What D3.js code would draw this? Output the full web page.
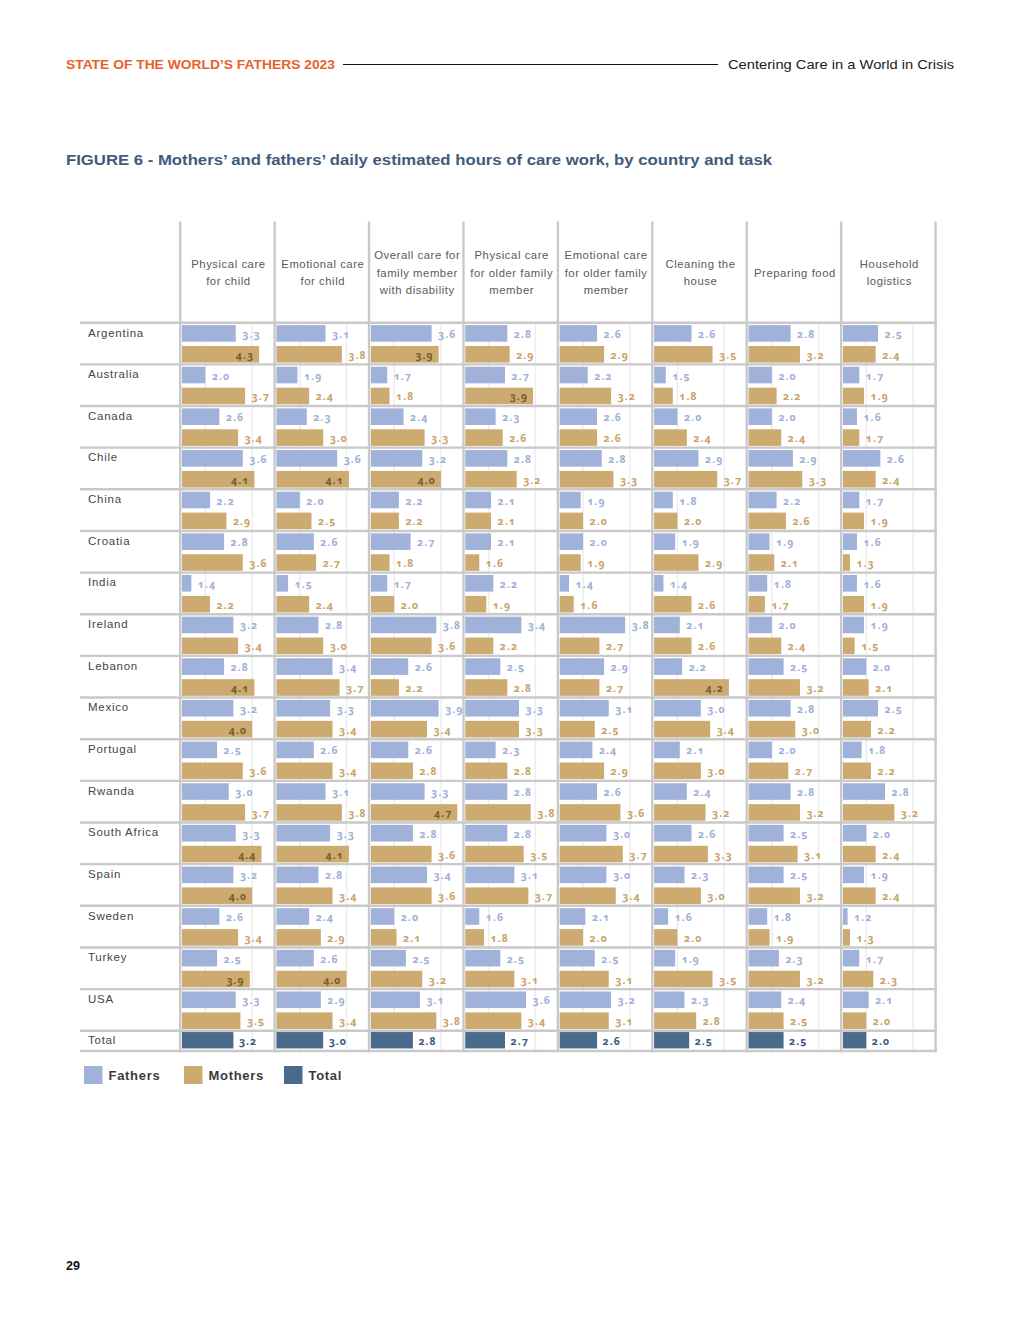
<!DOCTYPE html>
<html><head><meta charset="utf-8">
<script src="https://cdn.jsdelivr.net/npm/d3@7"></script>
<style>
body{margin:0;background:#fff}
svg{display:block}
.val{font-family:"Noto Sans",sans-serif;font-weight:700;font-size:10.5px;letter-spacing:1.05px;font-feature-settings:"onum" 1;font-variant-numeric:oldstyle-nums}
</style>
</head><body>
<svg id="chart" width="1020" height="1320"></svg>
<script>
// ---------- DATA ----------
const tasks = [
  ["Physical care", "for child"],
  ["Emotional care", "for child"],
  ["Overall care for", "family member", "with disability"],
  ["Physical care", "for older family", "member"],
  ["Emotional care", "for older family", "member"],
  ["Cleaning the", "house"],
  ["Preparing food"],
  ["Household", "logistics"]
];
const countries = ["Argentina","Australia","Canada","Chile","China","Croatia","India","Ireland","Lebanon","Mexico","Portugal","Rwanda","South Africa","Spain","Sweden","Turkey","USA"];
const fathers = [
  [3.3,3.1,3.6,2.8,2.6,2.6,2.8,2.5],
  [2.0,1.9,1.7,2.7,2.2,1.5,2.0,1.7],
  [2.6,2.3,2.4,2.3,2.6,2.0,2.0,1.6],
  [3.6,3.6,3.2,2.8,2.8,2.9,2.9,2.6],
  [2.2,2.0,2.2,2.1,1.9,1.8,2.2,1.7],
  [2.8,2.6,2.7,2.1,2.0,1.9,1.9,1.6],
  [1.4,1.5,1.7,2.2,1.4,1.4,1.8,1.6],
  [3.2,2.8,3.8,3.4,3.8,2.1,2.0,1.9],
  [2.8,3.4,2.6,2.5,2.9,2.2,2.5,2.0],
  [3.2,3.3,3.9,3.3,3.1,3.0,2.8,2.5],
  [2.5,2.6,2.6,2.3,2.4,2.1,2.0,1.8],
  [3.0,3.1,3.3,2.8,2.6,2.4,2.8,2.8],
  [3.3,3.3,2.8,2.8,3.0,2.6,2.5,2.0],
  [3.2,2.8,3.4,3.1,3.0,2.3,2.5,1.9],
  [2.6,2.4,2.0,1.6,2.1,1.6,1.8,1.2],
  [2.5,2.6,2.5,2.5,2.5,1.9,2.3,1.7],
  [3.3,2.9,3.1,3.6,3.2,2.3,2.4,2.1]
];
const mothers = [
  [4.3,3.8,3.9,2.9,2.9,3.5,3.2,2.4],
  [3.7,2.4,1.8,3.9,3.2,1.8,2.2,1.9],
  [3.4,3.0,3.3,2.6,2.6,2.4,2.4,1.7],
  [4.1,4.1,4.0,3.2,3.3,3.7,3.3,2.4],
  [2.9,2.5,2.2,2.1,2.0,2.0,2.6,1.9],
  [3.6,2.7,1.8,1.6,1.9,2.9,2.1,1.3],
  [2.2,2.4,2.0,1.9,1.6,2.6,1.7,1.9],
  [3.4,3.0,3.6,2.2,2.7,2.6,2.4,1.5],
  [4.1,3.7,2.2,2.8,2.7,4.2,3.2,2.1],
  [4.0,3.4,3.4,3.3,2.5,3.4,3.0,2.2],
  [3.6,3.4,2.8,2.8,2.9,3.0,2.7,2.2],
  [3.7,3.8,4.7,3.8,3.6,3.2,3.2,3.2],
  [4.4,4.1,3.6,3.5,3.7,3.3,3.1,2.4],
  [4.0,3.4,3.6,3.7,3.4,3.0,3.2,2.4],
  [3.4,2.9,2.1,1.8,2.0,2.0,1.9,1.3],
  [3.9,4.0,3.2,3.1,3.1,3.5,3.2,2.3],
  [3.5,3.4,3.8,3.4,3.1,2.8,2.5,2.0]
];
const totalLabel = "Total";
const totals = [3.2,3.0,2.8,2.7,2.6,2.5,2.5,2.0];
const gridValues = [2, 4];
const legendLabels = ["Fathers","Mothers","Total"];

// ---------- STYLE ----------
const C = {
  father: "#a0b2da", mother: "#cdaa70", total: "#4a6a8c",
  fatherTxt: "#9fb1d8", motherTxt: "#c9a468", totalTxt: "#3d5a7e", inside: "#7a5e2e",
  sep: "#c9c9c9", grid: "#ededed"
};

const svg = d3.select("#chart");

// header
svg.append("text").attr("x",66).attr("y",69)
  .attr("font-family","Liberation Sans, Arial, sans-serif").attr("font-weight",700)
  .attr("font-size",12.5).attr("fill","#e8612b")
  .attr("textLength",269).attr("lengthAdjust","spacingAndGlyphs")
  .text("STATE OF THE WORLD’S FATHERS 2023");
svg.append("line").attr("x1",343).attr("x2",718).attr("y1",64.5).attr("y2",64.5)
  .attr("stroke","#111").attr("stroke-width",1);
svg.append("text").attr("x",728).attr("y",69)
  .attr("font-family","Liberation Sans, Arial, sans-serif")
  .attr("font-size",13).attr("fill","#1a1a1a")
  .attr("textLength",226).attr("lengthAdjust","spacingAndGlyphs")
  .text("Centering Care in a World in Crisis");

// title
svg.append("text").attr("x",66).attr("y",165)
  .attr("font-family","Liberation Sans, Arial, sans-serif").attr("font-weight",700)
  .attr("font-size",14.5).attr("fill","#415a7a")
  .attr("textLength",706).attr("lengthAdjust","spacingAndGlyphs")
  .text("FIGURE 6 - Mothers’ and fathers’ daily estimated hours of care work, by country and task");

// ---------- SCALES ----------
const colStep = 94.42, tableLeft = 180.2;
const xCol = d3.scaleBand().domain(d3.range(tasks.length))
  .range([tableLeft, tableLeft + colStep * tasks.length]).padding(0);
const xVal = d3.scaleLinear().domain([1, 5]).range([0, 93.5]);
const rowTop0 = 322.7, rowStep = 41.65;
const yRow = d3.scaleBand().domain(countries)
  .range([rowTop0, rowTop0 + rowStep * countries.length]).padding(0);
const totalTop = rowTop0 + rowStep * countries.length;
const totalBottom = totalTop + 20.2;
const barStart = i => xCol(i) + 1.8;

const g = svg.append("g");

// light gridlines
tasks.forEach((t, i) => {
  gridValues.forEach(v => {
    g.append("line")
      .attr("x1", barStart(i) + xVal(v)).attr("x2", barStart(i) + xVal(v))
      .attr("y1", rowTop0).attr("y2", totalBottom)
      .attr("stroke", C.grid).attr("stroke-width", 1.5);
  });
});

// column headers
const hdr = svg.append("g").attr("font-family","Liberation Sans, Arial, sans-serif")
  .attr("font-size",11.3).attr("fill","#5a5a5a").attr("letter-spacing",0.55);
tasks.forEach((lines, i) => {
  const cx = xCol(i) + colStep / 2 + 1;
  const n = lines.length;
  lines.forEach((ln, k) => {
    hdr.append("text").attr("x", cx).attr("y", 272.5 + (k - (n - 1) / 2) * 17.6)
      .attr("text-anchor","middle").attr("dominant-baseline","central").text(ln);
  });
});

// country labels
const lab = svg.append("g").attr("font-family","Liberation Sans, Arial, sans-serif")
  .attr("font-size",11.5).attr("fill","#454545").attr("letter-spacing",0.75);
countries.forEach(c => {
  lab.append("text").attr("x",88).attr("y", yRow(c) + 9.8)
    .attr("dominant-baseline","central").text(c);
});
lab.append("text").attr("x",88).attr("y", totalTop + 9.6)
  .attr("dominant-baseline","central").text(totalLabel);

// separators (drawn under labels)
const sep = svg.append("g").attr("stroke", C.sep).attr("stroke-width", 2.4);
d3.range(countries.length + 1).forEach(k => {
  const y = rowTop0 + k * rowStep;
  sep.append("line").attr("x1", 80).attr("x2", tableLeft + colStep * tasks.length + 1.2)
    .attr("y1", y).attr("y2", y);
});
sep.append("line").attr("x1", 80).attr("x2", tableLeft + colStep * tasks.length + 1.2)
  .attr("y1", totalBottom).attr("y2", totalBottom);
d3.range(tasks.length + 1).forEach(k => {
  const x = tableLeft + k * colStep;
  sep.append("line").attr("x1", x).attr("x2", x).attr("y1", 221.5).attr("y2", totalBottom + 1.2);
});

// bars + labels
const fmt = d3.format(".1f");
const barH = 16.6;
const bars = svg.append("g");
countries.forEach((c, r) => {
  tasks.forEach((t, i) => {
    const fv = fathers[r][i], mv = mothers[r][i];
    const fy = yRow(c) + 2.4, my = yRow(c) + 23.3;
    bars.append("rect").attr("x", barStart(i)).attr("y", fy)
      .attr("width", xVal(fv)).attr("height", barH).attr("fill", C.father);
    bars.append("rect").attr("x", barStart(i)).attr("y", my)
      .attr("width", xVal(mv)).attr("height", barH).attr("fill", C.mother);
    bars.append("text").attr("class","val")
      .attr("x", barStart(i) + xVal(fv) + 6.5).attr("y", fy + barH / 2 + 0.5)
      .attr("dominant-baseline","central").attr("fill", C.fatherTxt).text(fmt(fv));
    const inside = mv >= 3.9;
    bars.append("text").attr("class","val")
      .attr("x", barStart(i) + xVal(mv) + (inside ? -5 : 6.5)).attr("y", my + barH / 2 + 0.5)
      .attr("text-anchor", inside ? "end" : "start")
      .attr("dominant-baseline","central").attr("fill", inside ? C.inside : C.motherTxt)
      .text(fmt(mv));
  });
});
totals.forEach((v, i) => {
  bars.append("rect").attr("x", barStart(i)).attr("y", totalTop + 1.3)
    .attr("width", xVal(v)).attr("height", 16.4).attr("fill", C.total);
  bars.append("text").attr("class","val")
    .attr("x", barStart(i) + xVal(v) + 5.5).attr("y", totalTop + 9.8)
    .attr("dominant-baseline","central").attr("fill", C.totalTxt).text(fmt(v));
});

// legend
const leg = svg.append("g");
const legX = [84, 184, 284];
const legColors = [C.father, C.mother, C.total];
legendLabels.forEach((l, i) => {
  leg.append("rect").attr("x", legX[i]).attr("y", 1066).attr("width", 18.5).attr("height", 18)
    .attr("fill", legColors[i]);
  leg.append("text").attr("x", legX[i] + 24.5).attr("y", 1075.5)
    .attr("dominant-baseline","central")
    .attr("font-family","Liberation Sans, Arial, sans-serif").attr("font-weight",700)
    .attr("font-size",13).attr("letter-spacing",0.7).attr("fill","#3a3a3a").text(l);
});

// page number
svg.append("text").attr("x",66).attr("y",1270)
  .attr("font-family","Liberation Sans, Arial, sans-serif").attr("font-weight",700)
  .attr("font-size",12.5).attr("fill","#111").text("29");
</script>
</body></html>
